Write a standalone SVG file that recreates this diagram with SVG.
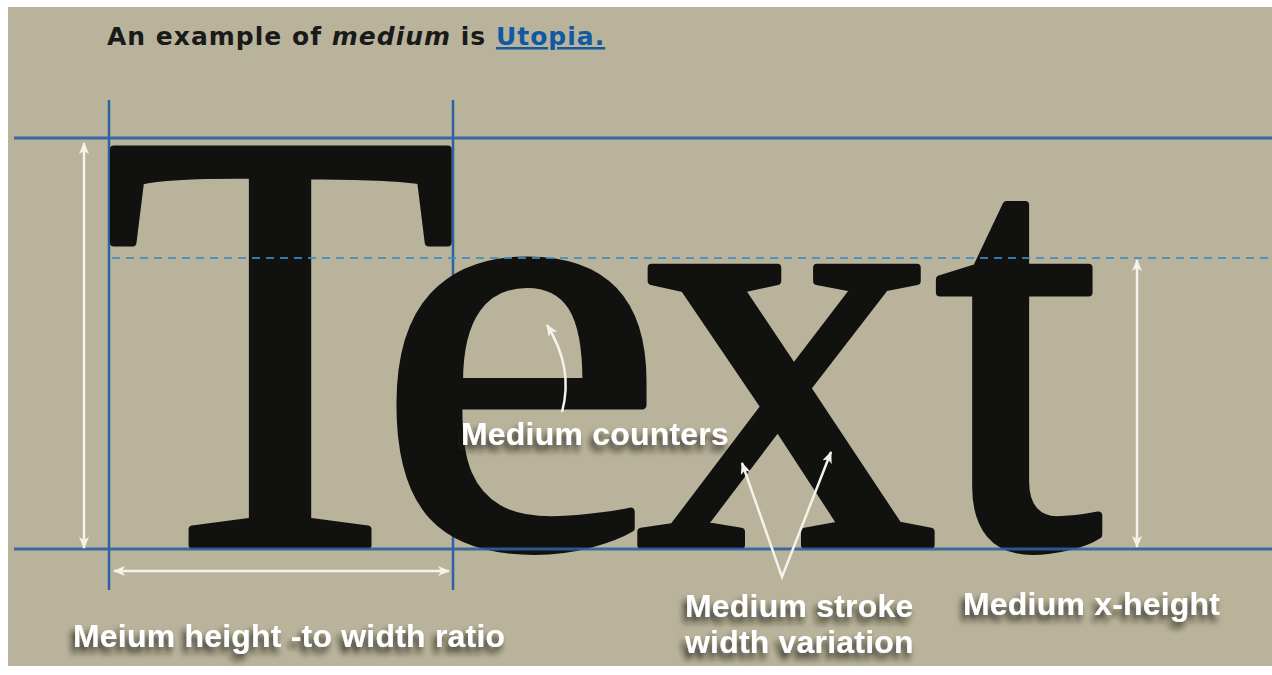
<svg xmlns="http://www.w3.org/2000/svg" width="1272" height="675" viewBox="0 0 1272 675">
  <defs>
    <style>
      .guide { stroke: #2a63a0; stroke-width: 3; fill: none; opacity: 0.9; }
      .vguide { stroke: #2a63a0; stroke-width: 2.5; fill: none; }
      .dash { stroke: #3f8cc4; stroke-width: 2; stroke-dasharray: 8 6; fill: none; opacity: 0.85; }
      .arrow { stroke: #f4f2ea; stroke-width: 2.5; fill: none; }
      .label { font-family: "Liberation Sans", Arial, sans-serif; font-weight: bold; font-size: 32px; letter-spacing: 0.2px; fill: #ffffff; }
      .head { font-family: "DejaVu Sans", Verdana, sans-serif; font-weight: bold; font-size: 25px; letter-spacing: 1px; fill: #1a1a1a; }
      .big { font-family: "Liberation Serif", "Times New Roman", serif; font-size: 604px; fill: #111110; stroke: #111110; stroke-width: 8; stroke-linejoin: round; }
    </style>
    <marker id="ah" viewBox="0 0 12 10" refX="11" refY="5" markerWidth="12" markerHeight="10" markerUnits="userSpaceOnUse" orient="auto-start-reverse">
      <path d="M0,0 L12,5 L0,10 L3,5 Z" fill="#f4f2ea"/>
    </marker>
    <filter id="shadow" x="-10%" y="-40%" width="120%" height="190%">
      <feGaussianBlur in="SourceAlpha" stdDeviation="3"/>
      <feOffset dx="-3" dy="6" result="b"/>
      <feFlood flood-color="#1c1a12" flood-opacity="0.85"/>
      <feComposite in2="b" operator="in" result="s"/>
      <feMerge>
        <feMergeNode in="s"/>
        <feMergeNode in="SourceGraphic"/>
      </feMerge>
    </filter>
  </defs>

  <rect x="0" y="0" width="1272" height="675" fill="#ffffff"/>
  <rect id="background" x="8" y="7" width="1264" height="659" fill="#b9b39b"/>

  <g id="heading">
    <text class="head" x="107" y="45">An example of <tspan font-style="italic">medium</tspan> is <tspan fill="#0f5aa0" text-decoration="underline">Utopia.</tspan></text>
  </g>

  <g id="vertical-guides">
    <line class="vguide" x1="109" y1="100" x2="109" y2="590"/>
    <line class="vguide" x1="453" y1="100" x2="453" y2="590"/>
  </g>

  <g id="sample-text">
    <text class="big" x="103" y="545" transform="translate(109 0) scale(0.96 1) translate(-109 0)">T</text>
    <text class="big" x="376" y="545" transform="translate(385 0) scale(1.08 1) translate(-385 0)">e</text>
    <text class="big" x="636" y="545">x</text>
    <text class="big" x="934" y="545">t</text>
  </g>

  <g id="guides">
    <line class="guide" x1="14" y1="138" x2="1272" y2="138"/>
    <line class="guide" x1="14" y1="549" x2="1272" y2="549"/>
    <line class="dash" x1="112" y1="258" x2="1272" y2="258"/>
  </g>

  <g id="connectors">
    <line class="arrow" x1="84" y1="143" x2="84" y2="548" marker-start="url(#ah)" marker-end="url(#ah)"/>
    <line class="arrow" x1="114" y1="571" x2="449" y2="571" marker-start="url(#ah)" marker-end="url(#ah)"/>
    <line class="arrow" x1="1137" y1="260" x2="1137" y2="547" marker-start="url(#ah)" marker-end="url(#ah)"/>
    <path class="arrow" d="M562,412 Q574,368 547,325" marker-end="url(#ah)"/>
    <polyline class="arrow" points="742,463 782,577 831,452" marker-start="url(#ah)" marker-end="url(#ah)"/>
  </g>

  <g id="label-counters" filter="url(#shadow)">
    <text class="label" x="461" y="445">Medium counters</text>
  </g>
  <g id="label-ratio" filter="url(#shadow)">
    <text class="label" x="73" y="647">Meium height -to width ratio</text>
  </g>
  <g id="label-stroke" filter="url(#shadow)">
    <text class="label" x="685" y="617">Medium stroke</text>
    <text class="label" x="685" y="653">width variation</text>
  </g>
  <g id="label-xheight" filter="url(#shadow)">
    <text class="label" x="963" y="615">Medium x-height</text>
  </g>
</svg>
